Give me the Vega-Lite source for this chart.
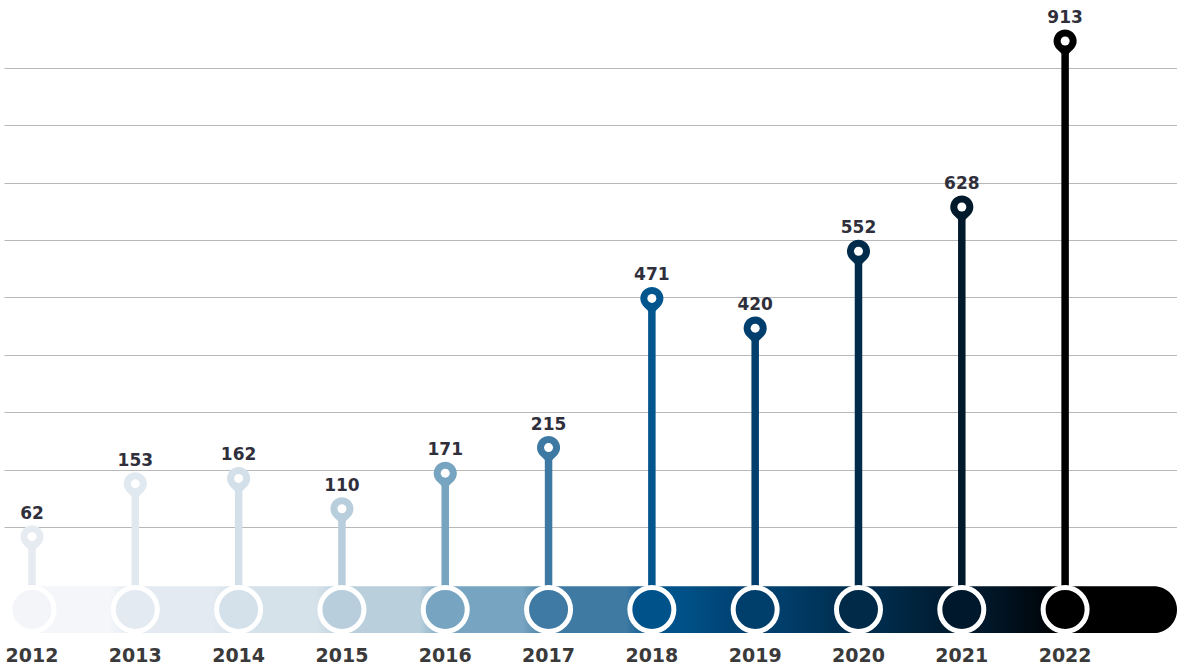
{
  "$schema": "https://vega.github.io/schema/vega-lite/v6.json",
  "width": 1177,
  "height": 667,
  "autosize": {"type": "fit", "contains": "padding"},
  "padding": 0,
  "background": "white",
  "config": {"view": {"stroke": null}},
  "data": {
    "values": [
      {"year": 2012, "value": 62},
      {"year": 2013, "value": 153},
      {"year": 2014, "value": 162},
      {"year": 2015, "value": 110},
      {"year": 2016, "value": 171},
      {"year": 2017, "value": 215},
      {"year": 2018, "value": 471},
      {"year": 2019, "value": 420},
      {"year": 2020, "value": 552},
      {"year": 2021, "value": 628},
      {"year": 2022, "value": 913}
    ]
  },
  "layer": [
    {
      "mark": {"type": "rule", "strokeWidth": 7.5},
      "encoding": {
        "x": {"field": "year", "type": "quantitative", "scale": {"domain": [2011.729, 2023.083], "nice": false, "zero": false}, "axis": null},
        "y": {
          "field": "value", "type": "quantitative",
          "scale": {"domain": [-161.7, 983.3], "nice": false, "zero": false},
          "axis": {"values": [867.1, 768.5, 669.9, 571.2, 472.6, 374.0, 275.4, 176.7, 78.1], "grid": true, "gridColor": "#b8b8b8", "gridWidth": 1.2, "labels": false, "ticks": false, "domain": false, "title": null, "minExtent": 0, "maxExtent": 0}
        },
        "y2": {"datum": -40},
        "color": {"field": "year", "type": "ordinal", "legend": null,
          "scale": {"domain": [2012, 2013, 2014, 2015, 2016, 2017, 2018, 2019, 2020, 2021, 2022],
                    "range": ["#e6ebf1", "#e0e8f0", "#d3dfe9", "#b8cedc", "#77a4c0", "#3d79a3", "#03558e", "#003f6d", "#002b4a", "#00192b", "#000000"]}}
      }
    },
    {
      "data": {"values": [{}]},
      "mark": {
        "type": "rect",
        "cornerRadius": 23.5,
        "fill": {
          "gradient": "linear", "x1": 0, "y1": 0, "x2": 1, "y2": 0,
          "stops": [
            {"offset": 0.0, "color": "#f4f6f9"},
            {"offset": 0.0800, "color": "#f4f6f9"},
            {"offset": 0.1024, "color": "#e3eaf1"},
            {"offset": 0.1691, "color": "#e3eaf1"},
            {"offset": 0.1913, "color": "#d6e2ea"},
            {"offset": 0.2581, "color": "#d6e2ea"},
            {"offset": 0.2804, "color": "#b9cfdc"},
            {"offset": 0.3471, "color": "#b9cfdc"},
            {"offset": 0.3694, "color": "#77a4c0"},
            {"offset": 0.4361, "color": "#77a4c0"},
            {"offset": 0.4584, "color": "#3f7aa3"},
            {"offset": 0.5252, "color": "#3f7aa3"},
            {"offset": 0.5475, "color": "#00528a"},
            {"offset": 0.5690, "color": "#00528a"},
            {"offset": 0.6365, "color": "#003e6b"},
            {"offset": 0.6579, "color": "#003e6b"},
            {"offset": 0.7255, "color": "#002b4a"},
            {"offset": 0.7470, "color": "#002b4a"},
            {"offset": 0.8145, "color": "#00182a"},
            {"offset": 0.8360, "color": "#00182a"},
            {"offset": 0.9035, "color": "#000000"},
            {"offset": 1.0, "color": "#000000"}
          ]
        }
      },
      "encoding": {
        "x": {"datum": 2011.85, "type": "quantitative"},
        "x2": {"datum": 2023.083},
        "y": {"datum": -23.2, "type": "quantitative"},
        "y2": {"datum": -103.4}
      }
    },
    {
      "mark": {"type": "point", "shape": "circle", "filled": true, "size": 1936, "stroke": "white", "strokeWidth": 5, "opacity": 1, "fillOpacity": 1, "strokeOpacity": 1},
      "encoding": {
        "x": {"field": "year", "type": "quantitative"},
        "y": {"datum": -63, "type": "quantitative"},
        "fill": {"field": "year", "type": "ordinal", "legend": null,
          "scale": {"domain": [2012, 2013, 2014, 2015, 2016, 2017, 2018, 2019, 2020, 2021, 2022],
                    "range": ["#f3f5f9", "#e3eaf2", "#d5e1ea", "#b8cedc", "#77a4c0", "#3f7aa4", "#00528a", "#003e6b", "#002a48", "#00182b", "#000000"]}}
      }
    },
    {
      "mark": {"type": "point", "shape": "M0,1L-0.5,0.518A0.72,0.72 0 1 1 0.5,0.518Z", "filled": true, "size": 1024, "opacity": 1, "fillOpacity": 1},
      "encoding": {
        "x": {"field": "year", "type": "quantitative"},
        "y": {"field": "value", "type": "quantitative"},
        "color": {"field": "year", "type": "ordinal", "legend": null}
      }
    },
    {
      "mark": {"type": "point", "shape": "circle", "filled": true, "size": 81, "color": "white", "opacity": 1},
      "encoding": {
        "x": {"field": "year", "type": "quantitative"},
        "y": {"field": "value", "type": "quantitative"}
      }
    },
    {
      "mark": {"type": "text", "font": "DejaVu Sans", "fontWeight": "bold", "fontSize": 17, "baseline": "alphabetic", "align": "center", "dy": -18, "color": "#2f2f3b"},
      "encoding": {
        "x": {"field": "year", "type": "quantitative"},
        "y": {"field": "value", "type": "quantitative"},
        "text": {"field": "value", "type": "quantitative"}
      }
    },
    {
      "mark": {"type": "text", "font": "DejaVu Sans", "fontWeight": "bold", "fontSize": 19, "baseline": "alphabetic", "align": "center", "color": "#3a3a3a"},
      "encoding": {
        "x": {"field": "year", "type": "quantitative"},
        "y": {"datum": -153.6, "type": "quantitative"},
        "text": {"field": "year", "type": "nominal"}
      }
    }
  ]
}
